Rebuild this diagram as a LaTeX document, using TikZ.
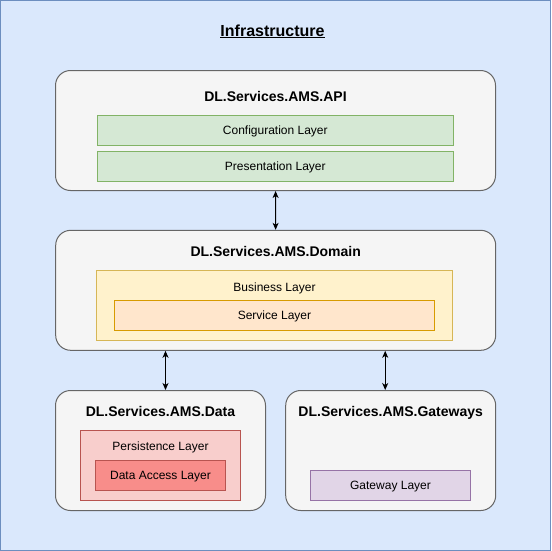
\documentclass[tikz,border=0pt]{standalone}
\usepackage{fontspec}
\setmainfont{Liberation Sans}
\usetikzlibrary{positioning,arrows.meta}

\definecolor{bgfill}{HTML}{DAE8FC}
\definecolor{bgline}{HTML}{6C8EBF}
\definecolor{modfill}{HTML}{F5F5F5}
\definecolor{modline}{HTML}{666666}
\definecolor{greenfill}{HTML}{D5E8D4}
\definecolor{greenline}{HTML}{82B366}
\definecolor{yellowfill}{HTML}{FFF2CC}
\definecolor{yellowline}{HTML}{D6B656}
\definecolor{orangefill}{HTML}{FFE6CC}
\definecolor{orangeline}{HTML}{D79B00}
\definecolor{redfill}{HTML}{F8CECC}
\definecolor{redline}{HTML}{B85450}
\definecolor{darkredfill}{HTML}{F88D8A}
\definecolor{purplefill}{HTML}{E1D5E7}
\definecolor{purpleline}{HTML}{9673A6}

\tikzset{
  module/.style={draw=modline, fill=modfill, line width=1pt, rounded corners=15pt},
  layer/.style={draw, line width=1pt, inner sep=0pt, text depth=0pt, font=\fontsize{12}{14}\selectfont},
  caption/.style={inner sep=0pt, text depth=0pt, font=\fontsize{12}{14}\selectfont},
  title/.style={font=\fontsize{14}{16}\selectfont\bfseries, inner sep=0pt, text depth=0pt},
  link/.style={{Stealth[length=7pt,width=6pt,inset=2pt]}-{Stealth[length=7pt,width=6pt,inset=2pt]}, line width=1pt},
}

\begin{document}
\begin{tikzpicture}[x=1pt, y=-1pt, node distance=5pt]
  \useasboundingbox (0,0) rectangle (551,551);
  \draw[fill=bgfill, draw=bgline, line width=1pt] (0.5,0.5) rectangle (550.5,550.5);

  \node[inner sep=0pt, text depth=0pt, font=\fontsize{16}{18}\selectfont\bfseries] (infra) at (272.5,30.3) {Infrastructure};
  \draw[line width=1pt] ([yshift=-1pt]infra.south west) -- ([yshift=-1pt]infra.south east);

  % API
  \node[module, minimum width=440pt, minimum height=120pt] (api) at (275.5,130.5) {};
  \node[title] (apititle) at (275.5,96) {DL.Services.AMS.API};
  \node[layer, draw=greenline, fill=greenfill, minimum width=356pt, minimum height=30pt] (config) at (275.3,130.5) {Configuration Layer};
  \node[layer, draw=greenline, fill=greenfill, minimum width=356pt, minimum height=30pt, below=of config] (present) {Presentation Layer};

  % Domain
  \node[module, minimum width=440pt, minimum height=120pt] (domain) at (275.7,290.3) {};
  \node[title] (domaintitle) at (275.7,251) {DL.Services.AMS.Domain};
  \node[layer, draw=yellowline, fill=yellowfill, minimum width=356pt, minimum height=70pt] (business) at (274.5,305.3) {};
  \node[caption] (businesstext) at (274.5,287) {Business Layer};
  \node[layer, draw=orangeline, fill=orangefill, minimum width=320pt, minimum height=30pt] (service) at (274.5,315.3) {Service Layer};

  % Data
  \node[module, minimum width=210pt, minimum height=120pt] (data) at (160.5,450.5) {};
  \node[title] (datatitle) at (160.5,411) {DL.Services.AMS.Data};
  \node[layer, draw=redline, fill=redfill, minimum width=160pt, minimum height=70pt] (persist) at (160.5,465.3) {};
  \node[caption] (persisttext) at (160.5,446) {Persistence Layer};
  \node[layer, draw=redline, fill=darkredfill, minimum width=130pt, minimum height=30pt] (access) at (160.5,475.3) {Data Access Layer};

  % Gateways
  \node[module, minimum width=210pt, minimum height=120pt] (gateways) at (390.7,450.5) {};
  \node[title] (gatewaystitle) at (390.7,411) {DL.Services.AMS.Gateways};
  \node[layer, draw=purpleline, fill=purplefill, minimum width=160pt, minimum height=30pt] (gateway) at (390.5,485.3) {Gateway Layer};

  \draw[link] (api) -- (domain);
  \draw[link] ([xshift=5pt]data.north |- domain.south) -- ([xshift=5pt]data.north);
  \draw[link] ([xshift=-5.5pt]gateways.north |- domain.south) -- ([xshift=-5.5pt]gateways.north);
\end{tikzpicture}
\end{document}
